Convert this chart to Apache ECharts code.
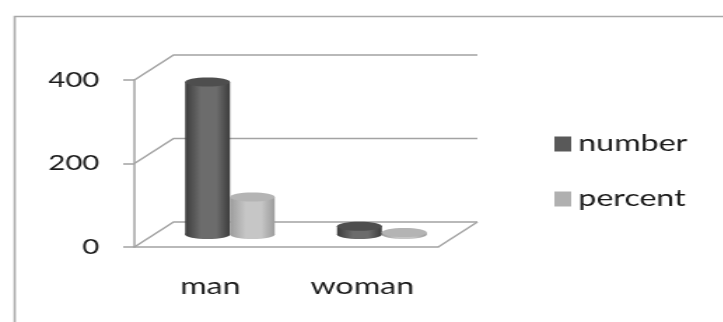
<!DOCTYPE html>
<html>
<head>
<meta charset="utf-8">
<script src="https://cdn.jsdelivr.net/npm/echarts@6/dist/echarts.min.js"></script>
<style>
  html, body { margin: 0; padding: 0; background: #fff; overflow: hidden; }
  /* the source picture is stretched sideways, so the chart is too */
  #main { width: 517px; height: 322px; transform: scaleX(1.4); transform-origin: 0 0; }
</style>
</head>
<body>
<div id="main"></div>
<script>
var categories = ['man', 'woman'];
var numberValues = [365, 20];
var percentValues = [90, 5];
var yTicks = [0, 200, 400];

var DX = 28, DY = -25;   // depth of the fake 3d box
var BAR_W = 32, RY = 4.5;
var LINE = '#a3a3a3';
var FONT = 'Lato';

function renderWall(params, api) {
    var v = api.value(1);
    var bw = api.size([1, 0])[0];
    var p0 = api.coord([0, v]);
    var p1 = api.coord([categories.length - 1, v]);
    var left = p0[0] - bw / 2, right = p1[0] + bw / 2, y = p0[1];
    var children = [{
        type: 'polyline',
        shape: { points: [[left, y], [left + DX, y + DY], [right + DX, y + DY]] },
        style: { stroke: LINE, lineWidth: 1.5, fill: null }
    }];
    if (v === 0) {
        children.push({
            type: 'line',
            shape: { x1: right, y1: y, x2: right + DX, y2: y + DY },
            style: { stroke: LINE, lineWidth: 1.5 }
        });
    }
    return { type: 'group', children: children };
}

function cylinder(offset, side, mid, cap) {
    return function (params, api) {
        var idx = api.value(0), val = api.value(1);
        var base = api.coord([idx, 0]);
        var top = api.coord([idx, val]);
        var cx = base[0] + DX / 2 + offset;
        var by = base[1] + DY / 2;
        var ty = top[1] + DY / 2;
        var grad = new echarts.graphic.LinearGradient(0, 0, 1, 0, [
            { offset: 0, color: side },
            { offset: 0.35, color: mid },
            { offset: 0.7, color: mid },
            { offset: 1, color: side }
        ]);
        return {
            type: 'group',
            children: [
                { type: 'ellipse', shape: { cx: cx, cy: by, rx: BAR_W / 2, ry: RY }, style: { fill: grad } },
                { type: 'rect', shape: { x: cx - BAR_W / 2, y: ty, width: BAR_W, height: by - ty }, style: { fill: grad } },
                { type: 'ellipse', shape: { cx: cx, cy: ty, rx: BAR_W / 2, ry: RY }, style: { fill: cap } }
            ]
        };
    };
}

var chart = echarts.init(document.getElementById('main'));
chart.setOption({
    animation: false,
    graphic: [{
        type: 'rect',
        left: 8, top: 14,
        shape: { width: 600, height: 400 },
        style: { fill: null, stroke: '#a8a8a8', lineWidth: 1.6 }
    }],
    grid: { left: 96, right: 204, top: 80, bottom: 75 },
    legend: {
        orient: 'vertical',
        left: 391, top: 126,
        data: ['number', 'percent'],
        icon: 'rect',
        itemWidth: 12, itemHeight: 15,
        itemGap: 29,
        textStyle: { fontFamily: FONT, fontSize: 23, color: '#1a1a1a', lineHeight: 26 }
    },
    xAxis: {
        type: 'category',
        data: categories,
        axisLine: { lineStyle: { color: LINE, width: 1.5 } },
        axisTick: { length: 9, lineStyle: { color: LINE, width: 1.5 } },
        axisLabel: { margin: 28, fontFamily: FONT, fontSize: 23, color: '#1a1a1a' }
    },
    yAxis: {
        type: 'value',
        min: 0, max: 400, interval: 200,
        axisLine: { show: true, lineStyle: { color: LINE, width: 1.5 } },
        axisTick: { show: true, length: 8, lineStyle: { color: LINE, width: 1.5 } },
        splitLine: { show: false },
        axisLabel: { margin: 25, fontFamily: FONT, fontSize: 21, color: '#1a1a1a' }
    },
    series: [
        {
            name: 'wall',
            type: 'custom',
            renderItem: renderWall,
            encode: { x: 0, y: 1 },
            data: yTicks.map(function (v) { return [0, v]; }),
            silent: true,
            clip: false,
            z: 1
        },
        {
            name: 'number',
            type: 'custom',
            renderItem: cylinder(-16, '#3c3c3c', '#6c6c6c', '#4e4e4e'),
            encode: { x: 0, y: 1 },
            itemStyle: { color: '#595959' },
            data: numberValues.map(function (v, i) { return [i, v]; }),
            clip: false,
            z: 3
        },
        {
            name: 'percent',
            type: 'custom',
            renderItem: cylinder(16, '#9c9c9c', '#c6c6c6', '#b4b4b4'),
            encode: { x: 0, y: 1 },
            itemStyle: { color: '#b0b0b0' },
            data: percentValues.map(function (v, i) { return [i, v]; }),
            clip: false,
            z: 3
        }
    ]
});
</script>
</body>
</html>
